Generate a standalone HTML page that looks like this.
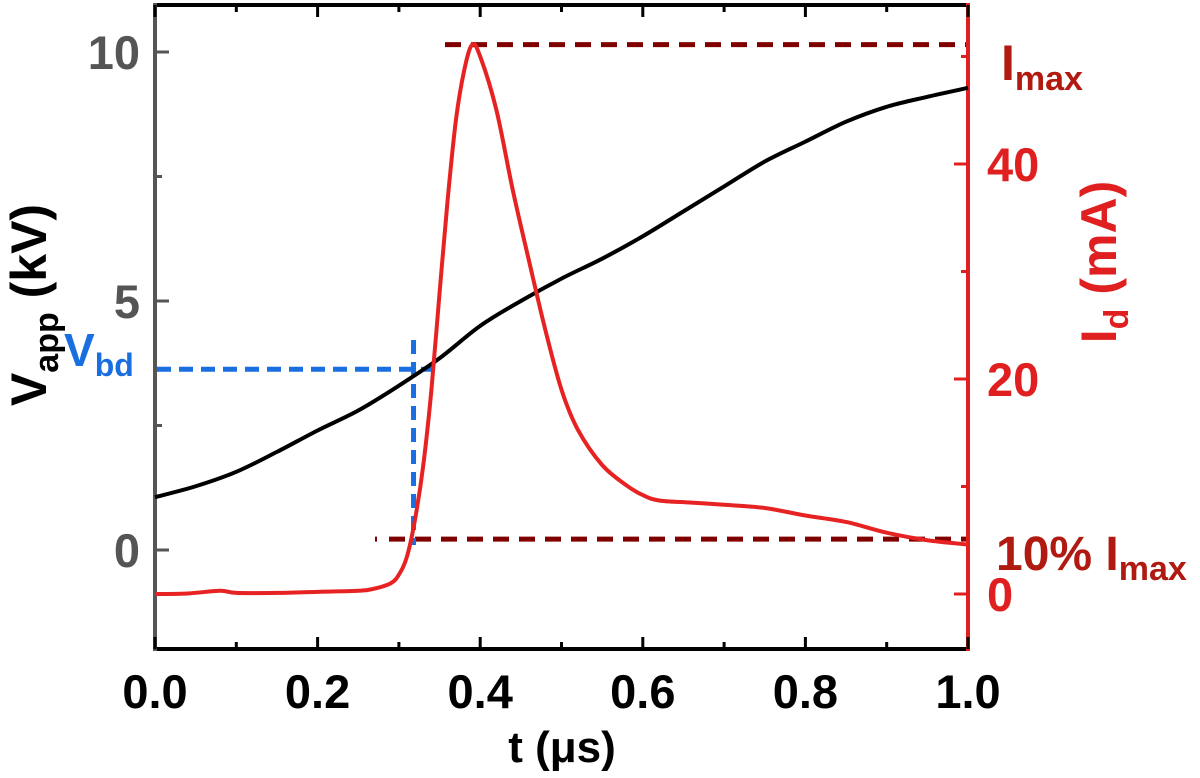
<!DOCTYPE html>
<html><head><meta charset="utf-8"><style>
body{margin:0;background:#fff}
svg{display:block;font-family:"Liberation Sans",sans-serif;font-weight:bold}
</style></head><body>
<svg id="chart" width="1200" height="778">
<g id="axes"></g><g id="marks"></g>
</svg>
<script>
const tVals=[0,0.05,0.1,0.15,0.2,0.25,0.3,0.35,0.4,0.45,0.5,0.55,0.6,0.65,0.7,0.75,0.8,0.85,0.9,0.95,1.0];
const vVals=[1.06,1.28,1.57,1.97,2.4,2.8,3.3,3.85,4.5,5.0,5.45,5.85,6.3,6.8,7.3,7.8,8.2,8.6,8.9,9.1,9.28];
const iTimes=[0,0.04,0.08,0.1,0.15,0.2,0.25,0.27,0.29,0.3,0.31,0.32,0.33,0.34,0.35,0.36,0.37,0.38,0.39,0.4,0.42,0.44,0.46,0.48,0.5,0.52,0.55,0.58,0.6,0.62,0.66,0.7,0.75,0.8,0.85,0.9,0.95,1.0];
const iVals=[0,0.05,0.3,0.1,0.1,0.2,0.3,0.5,1.0,1.8,3.5,7,12,19,28,36.7,44,48.6,51.1,50.0,45,37.6,31,24.6,19,15.3,12,10.1,9.2,8.7,8.5,8.3,8.0,7.3,6.7,5.7,5.0,4.6];
const xTicks=[0,0.2,0.4,0.6,0.8,1.0];
const xTickLabels=["0.0","0.2","0.4","0.6","0.8","1.0"];
const vTicks=[0,5,10];
const iTicks=[0,20,40];
const iMax=51.1, vbd=3.63, tbd=0.318;

const X=t=>155+t*813;
const YV=v=>550-v*49.8;
const YI=i=>594-i*10.75;
const NS="http://www.w3.org/2000/svg";
const ax=document.getElementById('axes'), mk=document.getElementById('marks');
function el(p,tag,a,txt){const e=document.createElementNS(NS,tag);for(const k in a)e.setAttribute(k,a[k]);if(txt!==undefined)e.textContent=txt;p.appendChild(e);return e;}
function smooth(pts){let d='M'+pts[0][0]+','+pts[0][1];
 for(let i=0;i<pts.length-1;i++){const p0=pts[Math.max(0,i-1)],p1=pts[i],p2=pts[i+1],p3=pts[Math.min(pts.length-1,i+2)];
  const c1=[p1[0]+(p2[0]-p0[0])/6,p1[1]+(p2[1]-p0[1])/6],c2=[p2[0]-(p3[0]-p1[0])/6,p2[1]-(p3[1]-p1[1])/6];
  d+=' C'+c1.join(',')+' '+c2.join(',')+' '+p2.join(',');}
 return d;}

let e;
e=el(ax,'line',{x1:155,y1:649,x2:968,y2:649,stroke:'#000','stroke-width':4});


e=el(ax,'line',{x1:155,y1:5,x2:968,y2:5,stroke:'#000','stroke-width':4});


e=el(ax,'line',{x1:155,y1:3,x2:155,y2:651,stroke:'#555','stroke-width':4});


e=el(ax,'line',{x1:968,y1:3,x2:968,y2:651,stroke:'#e02020','stroke-width':4});



for(let k=0;k<=10;k++){const t=k/10,L=k%2==0?12:7;
 el(ax,'line',{x1:X(t),y1:649,x2:X(t),y2:649-L,stroke:'#000','stroke-width':3});
 el(ax,'line',{x1:X(t),y1:5,x2:X(t),y2:5+L,stroke:'#000','stroke-width':3});}
xTicks.forEach((t,i)=>{e=el(ax,'text',{x:X(t),y:708,'text-anchor':'middle','font-size':47,fill:'#000'},xTickLabels[i]);
 
 });
for(let v=0;v<=10;v+=2.5){const L=v%5==0?14:7;el(ax,'line',{x1:155,y1:YV(v),x2:155+L,y2:YV(v),stroke:'#555','stroke-width':3});}
vTicks.forEach(v=>{e=el(ax,'text',{x:140,y:YV(v)+17,'text-anchor':'end','font-size':47,fill:'#555'},String(v));
 
 });
for(let i=0;i<=50;i+=10){const L=i%20==0?14:7;el(ax,'line',{x1:968,y1:YI(i),x2:968-L,y2:YI(i),stroke:'#e02020','stroke-width':3});}
iTicks.forEach(v=>{e=el(ax,'text',{x:987,y:YI(v)+17,'font-size':47,fill:'#e02020'},String(v));
 
 });

e=el(ax,'text',{x:562,y:762,'text-anchor':'middle','font-size':44,fill:'#000'},'t (μs)');


e=el(ax,'text',{transform:'translate(46,305) rotate(-90)','text-anchor':'middle','font-size':50,fill:'#000'});


e.innerHTML='V<tspan font-size="34" dy="12">app</tspan><tspan dy="-12"> (kV)</tspan>';
e=el(ax,'text',{transform:'translate(1116,262) rotate(-90)','text-anchor':'middle','font-size':50,fill:'#e02020'});


e.innerHTML='I<tspan font-size="34" dy="12">d</tspan><tspan dy="-12"> (mA)</tspan>';

e=el(mk,'line',{x1:445,y1:YI(iMax),x2:966,y2:YI(iMax),stroke:'#800000','stroke-width':5,'stroke-dasharray':'16 10'});


e=el(mk,'line',{x1:375,y1:YI(iMax*0.1),x2:966,y2:YI(iMax*0.1),stroke:'#800000','stroke-width':5,'stroke-dasharray':'2 12 16 10 16 10 16 10 16 10 16 10 16 10 16 10 16 10 16 10 16 10 16 10 16 10 16 10 16 10 16 10 16 10 16 10 16 10 16 10 16 10 16 10 16 10 16 10 16 10 16 10 16 10 16 10 16 10 16 10'});


e=el(mk,'line',{x1:157,y1:YV(vbd),x2:437,y2:YV(vbd),stroke:'#1a6fe0','stroke-width':5,'stroke-dasharray':'14 8'});


e=el(mk,'line',{x1:X(tbd),y1:340,x2:X(tbd),y2:545,stroke:'#1a6fe0','stroke-width':5,'stroke-dasharray':'14 8'});



e=el(mk,'path',{d:smooth(tVals.map((t,i)=>[X(t),YV(vVals[i])])),fill:'none',stroke:'#000','stroke-width':4});


e=el(mk,'path',{d:smooth(iTimes.map((t,i)=>[X(t),YI(iVals[i])])),fill:'none',stroke:'#e62222','stroke-width':4});



e=el(ax,'text',{x:1001,y:80,'font-size':50,fill:'#b01a10'});


e.innerHTML='I<tspan font-size="34" dy="10">max</tspan>';
e=el(ax,'text',{x:996,y:570,'font-size':48,fill:'#b01a10'});


e.innerHTML='10% I<tspan font-size="34" dy="10">max</tspan>';
e=el(ax,'text',{x:64,y:366,'font-size':46,fill:'#1a6fe0'});


e.innerHTML='V<tspan font-size="32" dy="10">bd</tspan>';
</script>
</body></html>
